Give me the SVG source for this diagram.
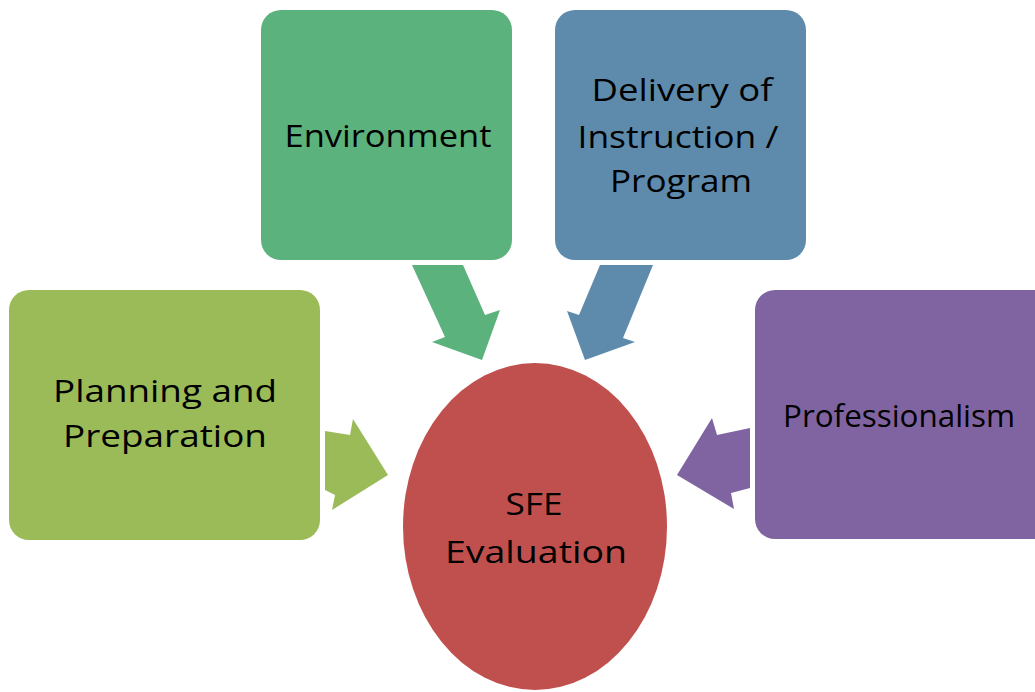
<svg xmlns="http://www.w3.org/2000/svg" width="1035" height="692" viewBox="0 0 1035 692">
<style>
  .lbl { font-family: "Open Sans", "Noto Sans", "DejaVu Sans", sans-serif; font-size: 31px; fill: #000; text-anchor: middle; }
</style>
<rect x="0" y="0" width="1035" height="692" fill="#ffffff"/>
<g id="connectors">
  <polygon id="arrow-environment" fill="#5CB27C" points="412,265 463,265 485,315 500,310 482,360 432,342 445,337"/>
  <polygon id="arrow-delivery" fill="#5E8BAC" points="600,265 653,265 623,338 635,342 585,360 567,311 579,315"/>
  <polygon id="arrow-planning" fill="#9BBB59" points="325,431 350,435 353,419 388,475 332,510 335,495 325,490"/>
  <polygon id="arrow-professionalism" fill="#8064A2" points="750,428 717,435 712,418 677,475 734,509 731,493 750,488"/>
</g>
<g id="node-environment">
  <rect x="261" y="10" width="251" height="250" rx="20" fill="#5CB27C"/>
  <text class="lbl" x="388" y="147" textLength="207" lengthAdjust="spacingAndGlyphs">Environment</text>
</g>
<g id="node-delivery">
  <rect x="555" y="10" width="251" height="250" rx="20" fill="#5E8BAC"/>
  <text class="lbl" x="682" y="101" textLength="181" lengthAdjust="spacingAndGlyphs">Delivery of</text>
  <text class="lbl" x="678" y="148" textLength="201" lengthAdjust="spacingAndGlyphs">Instruction /</text>
  <text class="lbl" x="681" y="192" textLength="142" lengthAdjust="spacingAndGlyphs">Program</text>
</g>
<g id="node-planning">
  <rect x="9" y="290" width="311" height="250" rx="20" fill="#9BBB59"/>
  <text class="lbl" x="165" y="402" textLength="224" lengthAdjust="spacingAndGlyphs">Planning and</text>
  <text class="lbl" x="165" y="447" textLength="204" lengthAdjust="spacingAndGlyphs">Preparation</text>
</g>
<g id="node-professionalism">
  <rect x="755" y="290" width="300" height="249" rx="20" fill="#8064A2"/>
  <text class="lbl" x="899" y="427" textLength="232" lengthAdjust="spacingAndGlyphs">Professionalism</text>
</g>
<g id="node-sfe">
  <ellipse cx="535" cy="526.5" rx="132" ry="163.5" fill="#C0504D"/>
  <text class="lbl" x="534" y="515" textLength="57" lengthAdjust="spacingAndGlyphs">SFE</text>
  <text class="lbl" x="536" y="563" textLength="182" lengthAdjust="spacingAndGlyphs">Evaluation</text>
</g>
</svg>
